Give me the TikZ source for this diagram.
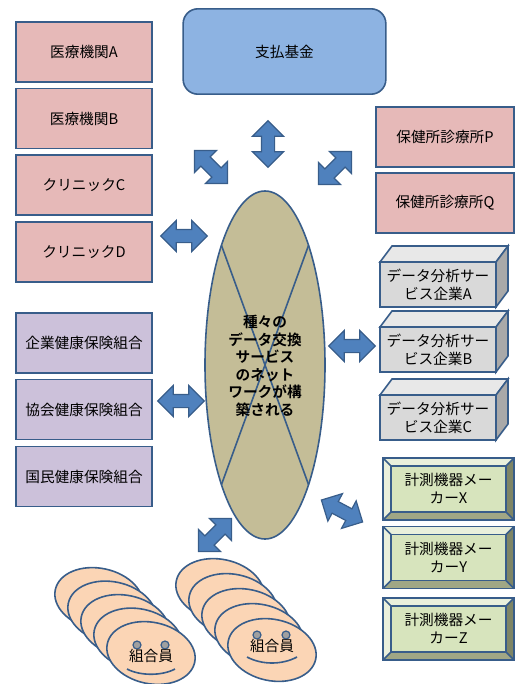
\documentclass[tikz,border=0pt]{standalone}
\usepackage{fontspec}
\setmainfont{Noto Sans CJK JP}[BoldFont={Noto Sans CJK JP Bold}]
\usepackage{tikz}
\usetikzlibrary{shapes.geometric,shapes.arrows}
\definecolor{EdgeBlue}{HTML}{385D8A}
\definecolor{BoxPink}{HTML}{E6B9B8}
\definecolor{BoxLilac}{HTML}{CCC1DA}
\definecolor{FundBlue}{HTML}{8DB3E2}
\definecolor{NetKhaki}{HTML}{C4BD97}
\definecolor{ArrowBlue}{HTML}{4F81BD}
\definecolor{CubeFront}{HTML}{D9D9D9}
\definecolor{CubeTop}{HTML}{E8E8E8}
\definecolor{CubeSide}{HTML}{A9A9A9}
\definecolor{MeterGreen}{HTML}{D7E4BD}
\definecolor{BevelLight}{HTML}{EAF0DC}
\definecolor{BevelDark}{HTML}{7E8566}
\definecolor{BevelMid}{HTML}{A0A785}
\definecolor{FacePeach}{HTML}{FBD5B5}
\definecolor{EyeGray}{HTML}{A0A0A0}

% top and side faces of a data company box
\newcommand{\cubefaces}[1]{%
  \draw[edge, fill=CubeTop] (#1.north west) -- ++(12,-16) -- ++(116,0) -- (#1.north east) -- cycle;
  \draw[edge, fill=CubeSide] (#1.north east) -- ++(12,-16) -- ++(0,45) -- (#1.south east) -- cycle;
}
% bevelled frame of a maker box
\newcommand{\bevelframe}[1]{%
  \fill[BevelLight] (#1.north west) -- (#1.north east) -- ++(-8,8) -- ++(-115,0) -- cycle;
  \fill[BevelLight] (#1.north west) -- ++(8,8) -- ++(0,46) -- (#1.south west) -- cycle;
  \fill[BevelDark] (#1.north east) -- ++(-8,8) -- ++(0,46) -- (#1.south east) -- cycle;
  \fill[BevelMid] (#1.south west) -- ++(8,-8) -- ++(115,0) -- (#1.south east) -- cycle;
  \draw[edge] (#1.north west) ++(8,8) rectangle ++(115,46);
  \draw[edge] (#1.north west) -- ++(8,8) (#1.north east) -- ++(-8,8)
    (#1.south west) -- ++(8,-8) (#1.south east) -- ++(-8,-8);
  \draw[edge] (#1.north west) rectangle (#1.south east);
}

\begin{document}
\begin{tikzpicture}[
  x=0.75pt, y=-0.75pt,
  font=\fontsize{11pt}{13.5pt}\selectfont,
  edge/.style={draw=EdgeBlue, line width=1.2pt},
  orgbox/.style={
    edge,
    rectangle,
    minimum width=102pt,
    minimum height=45pt,
    align=center,
    inner sep=0pt,
    outer sep=0pt
  },
  cube/.style={
    edge,
    fill=CubeFront,
    minimum width=87pt,
    minimum height=33.75pt,
    align=center,
    inner sep=0pt,
    outer sep=0pt
  },
  meter/.style={
    edge,
    fill=MeterGreen,
    minimum width=98.25pt,
    minimum height=46.5pt,
    align=center,
    inner sep=0pt,
    outer sep=0pt
  },
  blockarr/.style={
    double arrow,
    draw=EdgeBlue,
    fill=ArrowBlue,
    line width=0.9pt,
    inner xsep=0pt,
    inner ysep=4.5pt,
    minimum height=35pt,
    double arrow head extend=6.75pt
  },
  member/.style={edge, fill=FacePeach, ellipse, minimum width=67pt, minimum height=46pt, rotate=-12},
  eye/.style={edge, line width=0.9pt, fill=EyeGray, circle, inner sep=0pt, minimum size=6pt}
]
\useasboundingbox (0,0) rectangle (521,684);

% payment fund
\node[edge, fill=FundBlue, rounded corners=11pt, minimum width=152pt, minimum height=64pt] (fund) at (284.5,51.5) {支払基金};

% medical institutions
\node[orgbox, fill=BoxPink] (hospA) at (84,52) {医療機関A};
\node[orgbox, fill=BoxPink] (hospB) at (84,118.5) {医療機関B};
\node[orgbox, fill=BoxPink] (clinC) at (84,185) {クリニックC};
\node[orgbox, fill=BoxPink] (clinD) at (84,252) {クリニックD};
\node[orgbox, fill=BoxPink, minimum width=103.5pt] (healthP) at (445,137) {保健所診療所P};
\node[orgbox, fill=BoxPink, minimum width=103.5pt] (healthQ) at (445,203) {保健所診療所Q};

% insurers
\node[orgbox, fill=BoxLilac] (insCorp) at (84,343) {企業健康保険組合};
\node[orgbox, fill=BoxLilac] (insAssoc) at (84,409.5) {協会健康保険組合};
\node[orgbox, fill=BoxLilac] (insNational) at (84,476.5) {国民健康保険組合};

% data analysis companies
\node[cube] (anaA) at (438,284.5) {データ分析サー\\ビス企業A};
\cubefaces{anaA}
\node[cube] (anaB) at (438,349.5) {データ分析サー\\ビス企業B};
\cubefaces{anaB}
\node[cube] (anaC) at (438,417.5) {データ分析サー\\ビス企業C};
\cubefaces{anaC}

% device makers
\node[meter] (makerX) at (448.5,489) {計測機器メー\\カーX};
\bevelframe{makerX}
\node[meter] (makerY) at (448.5,557.5) {計測機器メー\\カーY};
\bevelframe{makerY}
\node[meter] (makerZ) at (448.5,629) {計測機器メー\\カーZ};
\bevelframe{makerZ}

% exchange network
\node[edge, fill=NetKhaki, ellipse, minimum width=90pt, minimum height=261pt, inner sep=0pt, outer sep=0pt] (net) at (265,365) {};
\draw[edge] (net.110) -- (net.-70);
\draw[edge] (net.70) -- (net.-110);
\node[font=\fontsize{11pt}{13.2pt}\selectfont\bfseries, align=center] (netText) at (265,366)
  {種々の\\データ交換\\サービス\\のネット\\ワークが構\\築される};

% block arrows round the network
\node[blockarr, rotate=90] (arFund) at (268,144) {};
\node[blockarr, rotate=-45] (arHosp) at (211,167) {};
\node[blockarr, rotate=45] (arHealth) at (335,168) {};
\node[blockarr] (arClinic) at (184,236) {};
\node[blockarr] (arInsurer) at (181,401) {};
\node[blockarr] (arAnalysis) at (352,346) {};
\node[blockarr, rotate=45] (arMember) at (215,535) {};
\node[blockarr, rotate=-28] (arMaker) at (342,511) {};

% insured members, two stacks
\foreach \k in {0,...,4}
  \node[member] (memL\k) at (99+13*\k,599+13.5*\k) {};
\foreach \k in {0,...,4}
  \node[member] (memR\k) at (220+13*\k,590+15*\k) {};

\node[eye] (eyeL1) at (137,645) {};
\node[eye] (eyeL2) at (165,645) {};
\node (nameL) at (151,656) {組合員};
\draw[edge] (127,669) .. controls (140,676) and (162,676) .. (175,669);

\node[eye] (eyeR1) at (257,635) {};
\node[eye] (eyeR2) at (286,635) {};
\node (nameR) at (272,646) {組合員};
\draw[edge] (247,657) .. controls (262,665) and (282,665) .. (297,657);
\end{tikzpicture}
\end{document}
